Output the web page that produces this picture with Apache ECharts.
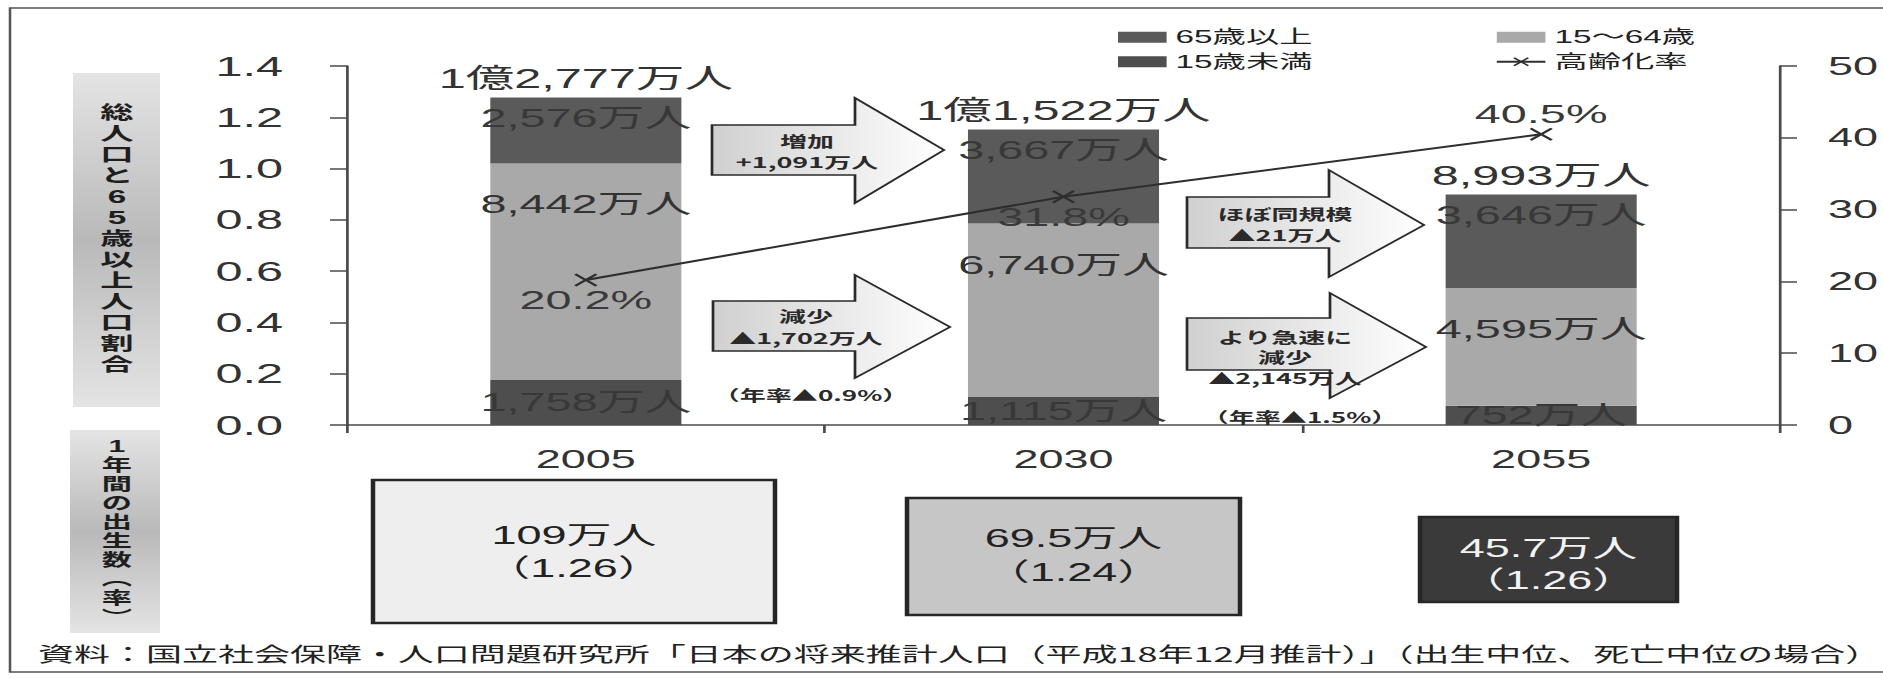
<!DOCTYPE html>
<html><head><meta charset="utf-8">
<script src="https://cdn.jsdelivr.net/npm/echarts@6/dist/echarts.min.js"></script>
<style>
html,body{margin:0;padding:0;background:#fff;overflow:hidden;width:1883px;height:679px;}
#wrap{position:absolute;left:0;top:0;width:1060px;height:679px;transform:scaleX(1.8);transform-origin:0 0;}
</style></head><body><div id="wrap"></div>
<script>
// ---- data (units: 億人 for population, % for aging rate) ----
const years = ['2005', '2030', '2055'];
const pop65 = [0.2576, 0.3667, 0.3646];
const pop1564 = [0.8442, 0.6740, 0.4595];
const popU15 = [0.1758, 0.1115, 0.0752];
const popTotal = [1.2777, 1.1522, 0.8993];
const agingRate = [20.2, 31.8, 40.5];
const births = ['109', '69.5', '45.7'];
const fertility = ['1.26', '1.24', '1.26'];
const leftTicks = ['0.0', '0.2', '0.4', '0.6', '0.8', '1.0', '1.2', '1.4'];
const rightTicks = ['0', '10', '20', '30', '40', '50'];
const names = ['65歳以上', '15～64歳', '15歳未満', '高齢化率'];
const arrowNotes = [['増加', '+1,091万人'], ['減少', '▲1,702万人'], ['ほぼ同規模', '▲21万人'], ['より急速に', '減少', '▲2,145万人']];
const rateNotes = ['（年率▲0.9%）', '（年率▲1.5%）'];
const sideTitles = ['総人口と65歳以上人口割合', '1年間の出生数︵率︶'];
const sourceText = '資料：国立社会保障・人口問題研究所「日本の将来推計人口（平成18年12月推計）」（出生中位、死亡中位の場合）';

// ---- layout / style (full-frame pixel coords; chart is drawn 1.8x narrower then stretched) ----
const S = 1.8;
const W = 1060;
const X = v => v / S;
const FONT = '"Liberation Sans","Noto Sans CJK JP",sans-serif';
const CJK = '"Noto Sans CJK JP","Liberation Sans",sans-serif';
const ratePos = ['bottom', 'bottom', 'top'];
const arrowGeom = [
  {l: 712, b: 855, t: 944, sT: 125, sB: 175, hT: 98, hB: 203, tY: 150, cx: 807, ys: [140, 161]},
  {l: 713, b: 855, t: 950, sT: 301, sB: 351, hT: 275, hB: 378, tY: 327, cx: 806, ys: [315, 337]},
  {l: 1187, b: 1329, t: 1424, sT: 197, sB: 248, hT: 170, hB: 277, tY: 225, cx: 1285, ys: [213, 234]},
  {l: 1187, b: 1330, t: 1426, sT: 318, sB: 370, hT: 293, hB: 398, tY: 347, cx: 1285, ys: [336, 356, 377]}
];
const rateNoteGeom = [{cx: 811, y: 395}, {cx: 1300, y: 417}];
const birthBoxes = [
  {x1: 373, x2: 775, y1: 480, y2: 623, ys: [535, 568], fill: '#eeeeee', color: '#222'},
  {x1: 907, x2: 1240, y1: 498, y2: 615, ys: [538, 572], fill: '#c6c6c6', color: '#222'},
  {x1: 1420, x2: 1677, y1: 517, y2: 602, ys: [548, 580], fill: '#3a3a3a', color: '#f2f2f2'}
];
const sideGeom = [
  {x1: 73, x2: 160, y1: 73, y2: 407, cy: 239, lh: 21, fs: 18.5},
  {x1: 70, x2: 160, y1: 430, y2: 633, cy: 532, lh: 19, fs: 16.8}
];

function comma(n) { return String(n).replace(/\B(?=(\d{3})+(?!\d))/g, ','); }
function man(v) { return comma(Math.round(v * 10000)) + '万人'; }
function totalFmt(v) {
  const m = Math.round(v * 10000);
  if (m >= 10000) return Math.floor(m / 10000) + '億' + comma(m % 10000) + '万人';
  return comma(m) + '万人';
}

const graphics = [];
graphics.push({type: 'rect', silent: true, z: 0, shape: {x: X(10), y: 8, width: 1200, height: 664},
  style: {fill: 'none', stroke: '#555', lineWidth: 1.4}});
sideGeom.forEach((g, i) => {
  graphics.push({type: 'rect', silent: true, z: 1, shape: {x: X(g.x1), y: g.y1, width: X(g.x2 - g.x1), height: g.y2 - g.y1},
    style: {fill: {type: 'linear', x: 0, y: 0, x2: 0, y2: 1, colorStops: [
      {offset: 0, color: '#e4e4e4'}, {offset: 0.5, color: '#b9b9b9'}, {offset: 1, color: '#e4e4e4'}]}}});
  const chars = Array.from(sideTitles[i]);
  const y0 = g.cy - (chars.length - 1) * g.lh / 2;
  chars.forEach((c, k) => {
    graphics.push({type: 'text', silent: true, z: 2, style: {x: X(117), y: y0 + k * g.lh, text: c,
      font: 'bold ' + g.fs + 'px ' + FONT, fill: '#1e1e1e', align: 'center', verticalAlign: 'middle'}});
  });
});
arrowGeom.forEach((g, i) => {
  graphics.push({type: 'polygon', silent: true, z: 3, shape: {points: [
    [X(g.l), g.sT], [X(g.b), g.sT], [X(g.b), g.hT], [X(g.t), g.tY], [X(g.b), g.hB], [X(g.b), g.sB], [X(g.l), g.sB]]},
    style: {fill: {type: 'linear', x: 0, y: 0, x2: 1, y2: 0, colorStops: [{offset: 0, color: '#d0d0d0'}, {offset: 1, color: '#ffffff'}]},
      stroke: '#2a2a2a', lineWidth: 1.5}});
  arrowNotes[i].forEach((t, k) => {
    graphics.push({type: 'text', silent: true, z: 4, style: {x: X(g.cx), y: g.ys[k], text: t,
      font: 'bold 15px ' + CJK, fill: '#2a2a2a', align: 'center', verticalAlign: 'middle'}});
  });
});
rateNoteGeom.forEach((g, i) => {
  graphics.push({type: 'text', silent: true, z: 4, style: {x: X(g.cx), y: g.y, text: rateNotes[i],
    font: 'bold 14.5px ' + CJK, fill: '#2a2a2a', align: 'center', verticalAlign: 'middle'}});
});
birthBoxes.forEach((g, i) => {
  graphics.push({type: 'rect', silent: true, z: 3, shape: {x: X(g.x1), y: g.y1, width: X(g.x2 - g.x1), height: g.y2 - g.y1},
    style: {fill: g.fill, stroke: '#262626', lineWidth: 2.5}});
  const cx = X((g.x1 + g.x2) / 2);
  graphics.push({type: 'text', silent: true, z: 4, style: {x: cx, y: g.ys[0], text: births[i] + '万人',
    font: '25px ' + FONT, fill: g.color, align: 'center', verticalAlign: 'middle'}});
  graphics.push({type: 'text', silent: true, z: 4, style: {x: cx, y: g.ys[1], text: '（' + fertility[i] + '）',
    font: '25px ' + FONT, fill: g.color, align: 'center', verticalAlign: 'middle'}});
});
graphics.push({type: 'text', silent: true, z: 4, style: {x: X(38), y: 653, text: sourceText,
  font: '20px ' + CJK, fill: '#222', align: 'left', verticalAlign: 'middle'}});

const axisLineStyle = {color: '#4a4a4a', width: 1.5};
const segLabel = {show: true, fontFamily: FONT, fontSize: 26, color: '#383838', formatter: p => man(p.value)};
const legendText = {fontSize: 18.5, lineHeight: 18, color: '#222', fontFamily: FONT};
const X_PATH = 'path://M0,1L1,0L5,4L9,0L10,1L6,5L10,9L9,10L5,6L1,10L0,9L4,5Z';

const chart = echarts.init(document.getElementById('wrap'), null, {renderer: 'svg', width: W, height: 679});
chart.setOption({
  animation: false,
  backgroundColor: '#fff',
  textStyle: {fontFamily: FONT},
  grid: {left: X(347), right: W - X(1780), top: 66, bottom: 679 - 425, containLabel: false, outerBoundsMode: 'none'},
  legend: [
    {data: [{name: names[0], icon: 'rect'}, {name: names[2], icon: 'rect'}], orient: 'vertical', left: X(1118), top: 28,
      itemWidth: 27, itemHeight: 11, itemGap: 6, padding: 0, selectedMode: false, textStyle: legendText},
    {data: [{name: names[1], icon: 'rect'}, {name: names[3]}], orient: 'vertical', left: X(1495), top: 28,
      itemWidth: 27, itemHeight: 11, itemGap: 6, padding: 0, selectedMode: false, textStyle: legendText}
  ],
  xAxis: {type: 'category', data: years, boundaryGap: true,
    axisLine: {show: true, lineStyle: axisLineStyle},
    axisTick: {show: true, length: 8, lineStyle: axisLineStyle},
    axisLabel: {fontSize: 25, color: '#333', margin: 22, fontFamily: FONT}},
  yAxis: [
    {type: 'value', min: 0, max: 1.4, interval: 0.2, position: 'left',
      axisLine: {show: true, lineStyle: axisLineStyle}, axisTick: {show: true, length: X(17), lineStyle: axisLineStyle},
      splitLine: {show: false},
      axisLabel: {fontSize: 27, color: '#333', margin: X(64), fontFamily: FONT, formatter: v => leftTicks[Math.round(v / 0.2)]}},
    {type: 'value', min: 0, max: 50, interval: 10, position: 'right',
      axisLine: {show: true, lineStyle: axisLineStyle}, axisTick: {show: true, length: X(17), lineStyle: axisLineStyle},
      splitLine: {show: false},
      axisLabel: {fontSize: 25, color: '#333', margin: X(48), fontFamily: FONT, formatter: v => rightTicks[Math.round(v / 10)]}}
  ],
  series: [
    {name: names[2], type: 'bar', stack: 'pop', data: popU15, barWidth: '40%', itemStyle: {color: '#4e4e4e'},
      label: Object.assign({}, segLabel, {position: 'inside'})},
    {name: names[1], type: 'bar', stack: 'pop', data: pop1564, barWidth: '40%', itemStyle: {color: '#a9a9a9'},
      label: Object.assign({}, segLabel, {position: 'insideTop', distance: 28, color: '#333'})},
    {name: names[0], type: 'bar', stack: 'pop', data: pop65, barWidth: '40%', itemStyle: {color: '#5a5a5a'},
      label: Object.assign({}, segLabel, {position: 'insideTop', distance: 8})},
    {name: '総人口', type: 'line', data: popTotal, symbol: 'circle', symbolSize: 1, silent: true, z: 6,
      itemStyle: {color: 'transparent'}, lineStyle: {opacity: 0, width: 0},
      label: {show: true, position: 'top', distance: 5, fontSize: 27, color: '#333', fontFamily: FONT, formatter: p => totalFmt(p.value)}},
    {name: names[3], type: 'line', yAxisIndex: 1, z: 5,
      data: agingRate.map((v, i) => ({value: v, label: {position: ratePos[i]}})),
      symbol: X_PATH, symbolSize: [13, 13], itemStyle: {color: '#2e2e2e'}, lineStyle: {color: '#2e2e2e', width: 2},
      label: {show: true, distance: 1, fontSize: 26, color: '#3a3a3a', fontFamily: FONT, formatter: p => p.value.toFixed(1) + '%'}}
  ],
  graphic: {elements: graphics}
});
</script></body></html>
